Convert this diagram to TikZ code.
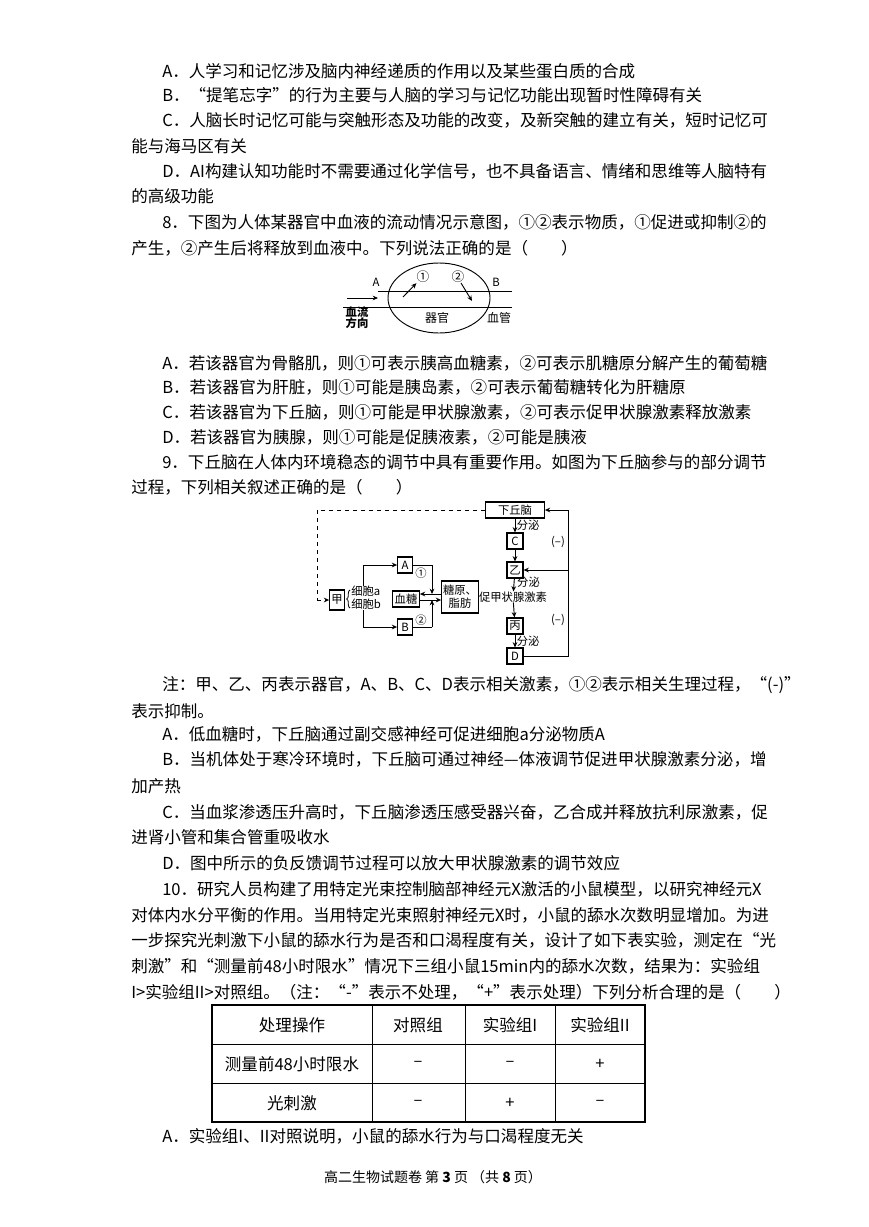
\documentclass[tikz,border=0pt]{standalone}
\usepackage{fontspec}
\newfontfamily\cjk{Noto Sans CJK SC}
\usetikzlibrary{arrows.meta,decorations.pathreplacing}
\begin{document}
\begin{tikzpicture}[x=0.75pt,y=-0.75pt,
  txt/.style={anchor=west,inner sep=0pt,font=\cjk\fontsize{12.4}{15}\selectfont},
  sm/.style={inner sep=0pt,font=\cjk\fontsize{8.5}{10}\selectfont},
  bx/.style={draw,line width=0.8pt,inner sep=1pt,font=\cjk\fontsize{8.5}{10}\selectfont},
  ar/.style={-{Stealth[length=4pt,width=3.5pt]},line width=0.7pt},
  ln/.style={line width=0.7pt}]
\useasboundingbox (0,0) rectangle (868,1227);
\fill[white] (0,0) rectangle (868,1227);
\node[txt] (l1) at (162,71) {A．人学习和记忆涉及脑内神经递质的作用以及某些蛋白质的合成};
\node[txt] (l2) at (162,95) {B．“提笔忘字”的行为主要与人脑的学习与记忆功能出现暂时性障碍有关};
\node[txt] (l3) at (162,120) {C．人脑长时记忆可能与突触形态及功能的改变，及新突触的建立有关，短时记忆可};
\node[txt] (l4) at (131,146) {能与海马区有关};
\node[txt] (l5) at (162,171) {D．AI构建认知功能时不需要通过化学信号，也不具备语言、情绪和思维等人脑特有};
\node[txt] (l6) at (131,196) {的高级功能};
\node[txt] (l7) at (162,222) {8．下图为人体某器官中血液的流动情况示意图，①②表示物质，①促进或抑制②的};
\node[txt] (l8) at (131,248) {产生，②产生后将释放到血液中。下列说法正确的是（　　）};
% diagram 1
\draw[ln] (439,298) ellipse [x radius=51,y radius=35];
\fill[white] (395,292) rectangle (484,306);
\draw[ln] (378,291) -- (512,291);
\draw[ln] (343,307) -- (512,307);
\node[sm] (dA) at (376,282) {A};
\node[sm] (dB) at (496,282) {B};
\node[sm,font=\cjk\fontsize{9.5}{10}\selectfont] (d1) at (423,277) {①};
\node[sm,font=\cjk\fontsize{9.5}{10}\selectfont] (d2) at (458,277) {②};
\coordinate (f1) at (403,297); \coordinate (f2) at (461,283);
\draw[ar] (f1) -- (d1.south west);
\draw[ar] (f2) -- (472,301);
\coordinate (s0) at (347,298);
\draw[ar] (s0) -- (378,298);
\node[sm,align=center,font=\cjk\bfseries\fontsize{8.5}{10}\selectfont] (flow) at (357,318) {血流\\[-2pt]方向};
\node[sm,font=\cjk\fontsize{9}{10}\selectfont] (organ) at (437,318) {器官};
\node[sm,font=\cjk\fontsize{9}{10}\selectfont] (vess) at (499,318) {血管};
\node[txt] (a8) at (162,363) {A．若该器官为骨骼肌，则①可表示胰高血糖素，②可表示肌糖原分解产生的葡萄糖};
\node[txt] (b8) at (162,387) {B．若该器官为肝脏，则①可能是胰岛素，②可表示葡萄糖转化为肝糖原};
\node[txt] (c8) at (162,412) {C．若该器官为下丘脑，则①可能是甲状腺激素，②可表示促甲状腺激素释放激素};
\node[txt] (d8) at (162,437) {D．若该器官为胰腺，则①可能是促胰液素，②可能是胰液};
\node[txt] (q9) at (162,462) {9．下丘脑在人体内环境稳态的调节中具有重要作用。如图为下丘脑参与的部分调节};
\node[txt] (q9b) at (131,487) {过程，下列相关叙述正确的是（　　）};
% diagram 2
\node[bx,minimum width=44pt,minimum height=12pt] (hyp) at (515,510) {下丘脑};
\node[bx,minimum width=12pt,minimum height=12pt] (C) at (515,541) {C};
\node[bx,minimum width=12pt,minimum height=12pt] (yi) at (515,570) {乙};
\node[sm] (tsh) at (513,597) {促甲状腺激素};
\node[bx,minimum width=12pt,minimum height=12pt] (bing) at (515,626) {丙};
\node[bx,minimum width=12pt,minimum height=12pt] (D) at (515,656) {D};
\draw[ar] (hyp) -- node[sm,right=1pt] {分泌} (C);
\draw[ar] (C) -- (yi);
\draw[ar] (yi) -- node[sm,right=2pt,pos=0.3] {分泌} (tsh);
\draw[ar] (tsh) -- (bing);
\draw[ar] (bing) -- node[sm,right=1pt] {分泌} (D);
\coordinate (rt) at (568,656);
\draw[ln] (D.east) -- (rt) -- (568,510);
\draw[ar] (568,510) -- (hyp.east);
\draw[ar] (568,570) -- (yi.east);
\node[sm] (m1) at (558,542) {(–)};
\node[sm] (m2) at (558,620) {(–)};
\node[bx,minimum width=11pt,minimum height=15pt] (jia) at (337,600) {甲};
\draw[ln,dashed] (hyp.west) -- (317,510) -- (317,600);
\draw[ar,dashed] (317,600) -- (jia.west);
\draw[decorate,decoration={brace,amplitude=2.5pt},line width=0.6pt] (350,608) -- (350,590);
\node[sm,anchor=west] (ca) at (351,591) {细胞a};
\node[sm,anchor=west] (cb) at (351,604) {细胞b};
\node[bx,minimum width=11pt,minimum height=12pt] (A) at (405,565) {A};
\node[bx,minimum width=11pt,minimum height=12pt] (B) at (405,627) {B};
\draw[ln] (363,586) -- (363,565);
\draw[ar] (363,565) -- (A.west);
\draw[ln] (363,610) -- (363,627);
\draw[ar] (363,627) -- (B.west);
\node[sm] (p1) at (421,573) {①};
\node[sm] (p2) at (421,620) {②};
\node[bx,minimum width=20pt,minimum height=12pt] (bs) at (406,599) {血糖};
\node[bx,align=center,minimum height=24pt] (gly) at (460,597) {糖原、\\脂肪};
\draw[ar] (gly.west|-0,594) -- (bs.east|-0,594);
\draw[ar] (bs.east|-0,600) -- (gly.west|-0,600);
\draw[ln] (A.east) -- (432,565);
\draw[ar] (432,565) -- (432,594);
\draw[ln] (B.east) -- (432,627);
\draw[ar] (432,627) -- (432,600);
\node[txt] (n1) at (162,685) {注：甲、乙、丙表示器官，A、B、C、D表示相关激素，①②表示相关生理过程，“(-)”};
\node[txt] (n2) at (131,711) {表示抑制。};
\node[txt] (a9) at (162,734) {A．低血糖时，下丘脑通过副交感神经可促进细胞a分泌物质A};
\node[txt] (b9) at (162,759) {B．当机体处于寒冷环境时，下丘脑可通过神经—体液调节促进甲状腺激素分泌，增};
\node[txt] (b9b) at (131,786) {加产热};
\node[txt] (c9) at (162,812) {C．当血浆渗透压升高时，下丘脑渗透压感受器兴奋，乙合成并释放抗利尿激素，促};
\node[txt] (c9b) at (131,837) {进肾小管和集合管重吸收水};
\node[txt] (d9) at (162,863) {D．图中所示的负反馈调节过程可以放大甲状腺激素的调节效应};
\node[txt] (q10) at (162,889) {10．研究人员构建了用特定光束控制脑部神经元X激活的小鼠模型，以研究神经元X};
\node[txt] (q10b) at (131,915) {对体内水分平衡的作用。当用特定光束照射神经元X时，小鼠的舔水次数明显增加。为进};
\node[txt] (q10c) at (131,940) {一步探究光刺激下小鼠的舔水行为是否和口渴程度有关，设计了如下表实验，测定在“光};
\node[txt] (q10d) at (131,966) {刺激”和“测量前48小时限水”情况下三组小鼠15min内的舔水次数，结果为：实验组};
\node[txt] (q10e) at (131,992) {I>实验组II>对照组。（注：“-”表示不处理，“+”表示处理）下列分析合理的是（　　）};
% table
\draw[line width=0.8pt] (212,1005) rectangle (645,1122);
\draw[line width=0.6pt] (212,1044) -- (645,1044) (212,1083) -- (645,1083)
  (372,1005) -- (372,1122) (465,1005) -- (465,1122) (555,1005) -- (555,1122);
\node[txt,anchor=center] (t11) at (292,1025) {处理操作};
\node[txt,anchor=center] (t12) at (418,1025) {对照组};
\node[txt,anchor=center] (t13) at (510,1025) {实验组I};
\node[txt,anchor=center] (t14) at (600,1025) {实验组II};
\node[txt,anchor=center] (t21) at (292,1064) {测量前48小时限水};
\node[txt,anchor=center] (t22) at (418,1064) {–};
\node[txt,anchor=center] (t23) at (510,1064) {–};
\node[txt,anchor=center] (t24) at (600,1064) {+};
\node[txt,anchor=center] (t31) at (292,1103) {光刺激};
\node[txt,anchor=center] (t32) at (418,1103) {–};
\node[txt,anchor=center] (t33) at (510,1103) {+};
\node[txt,anchor=center] (t34) at (600,1103) {–};
\node[txt] (a10) at (162,1136) {A．实验组I、II对照说明，小鼠的舔水行为与口渴程度无关};
\node[txt,anchor=center,font=\cjk\fontsize{10.5}{12}\selectfont] (foot) at (433,1177) {高二生物试题卷\ 第 \textbf{3} 页 （共 \textbf{8} 页）};
\end{tikzpicture}
\end{document}
